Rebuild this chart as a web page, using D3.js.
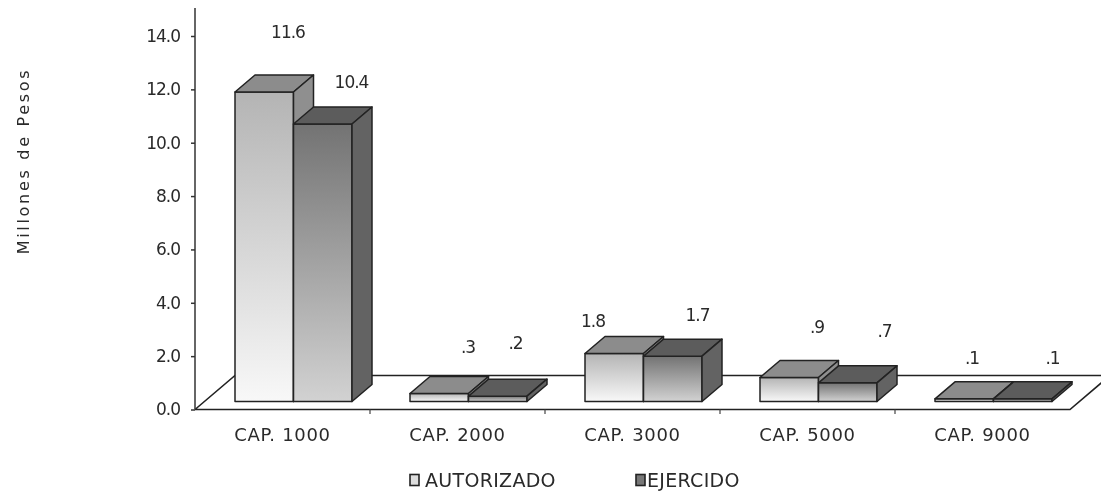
<!DOCTYPE html>
<html lang="es">
<head>
    <meta charset="UTF-8">
    <title>Millones de Pesos por capítulo</title>
    <script src="https://d3js.org/d3.v7.min.js"></script>
    <style>
        html, body { margin: 0; padding: 0; background: #fff; }
        svg { display: block; filter: blur(0.45px); }
        text { font-family: "DejaVu Sans", sans-serif; fill: #2a2a2a; }
        .domain, .tick line { stroke: #333; stroke-width: 1.5; }
    </style>
</head>
<body>
    <div id="chart"></div>
    <script>
        // values
        var categories = ["CAP. 1000", "CAP. 2000", "CAP. 3000", "CAP. 5000", "CAP. 9000"];
        var seriesNames = ["AUTORIZADO", "EJERCIDO"];
        var autorizado = [11.6, 0.3, 1.8, 0.9, 0.1];
        var ejercido = [10.4, 0.2, 1.7, 0.7, 0.1];
        var yTicks = [0, 2, 4, 6, 8, 10, 12, 14];

        // the value labels sit loosely above the bars, offsets from each bar's front top-left corner
        var labelOffsets = [
            [[53, -54], [58, -36]],
            [[58, -40], [47, -47]],
            [[8, -26], [54, -35]],
            [[57, -44], [66, -46]],
            [[37, -35], [59, -35]]
        ];

        var width = 1101, height = 491;
        var depthX = 20, depthY = 17;    // 3d offset of a bar
        var floorX = 40, floorY = 34;    // 3d offset of the floor
        var baseLift = 8;                // bars stand a bit behind the front edge

        var svg = d3.select("#chart").append("svg")
            .attr("width", width)
            .attr("height", height);

        var y = d3.scaleLinear().domain([0, 14]).range([409.5, 36]);
        var x = d3.scaleBand().domain(categories).range([195, 1070]);
        var xInner = d3.scaleBand().domain(seriesNames).range([40, 157]);

        var defs = svg.append("defs");
        function addGradient(id, c1, c2) {
            var g = defs.append("linearGradient").attr("id", id)
                .attr("x1", 0).attr("y1", 0).attr("x2", 0).attr("y2", 1);
            g.append("stop").attr("offset", "0%").attr("stop-color", c1);
            g.append("stop").attr("offset", "100%").attr("stop-color", c2);
        }
        addGradient("frontA", "#b4b4b4", "#f8f8f8");
        addGradient("frontE", "#737373", "#d2d2d2");

        var faces = {
            AUTORIZADO: { front: "url(#frontA)", top: "#8c8c8c", side: "#8f8f8f" },
            EJERCIDO: { front: "url(#frontE)", top: "#5c5c5c", side: "#636363" }
        };

        // floor
        var x0 = x.range()[0], x1 = x.range()[1], y0 = y(0);
        svg.append("path")
            .attr("d", d3.line()([[x0, y0], [x0 + floorX, y0 - floorY], [x1 + floorX, y0 - floorY], [x1, y0], [x0, y0]]))
            .attr("fill", "#fff")
            .attr("stroke", "#222")
            .attr("stroke-width", 1.6);

        // axes
        var yAxis = d3.axisLeft(y)
            .tickValues(yTicks)
            .tickFormat(d3.format(".1f"))
            .tickSize(4)
            .tickPadding(11);
        svg.append("g")
            .attr("transform", "translate(195,0)")
            .call(yAxis)
            .call(g => g.selectAll("text").attr("font-size", 17).attr("letter-spacing", "-1px"))
            .call(g => g.select(".domain").attr("d", "M0,8V409.5"));

        var xAxis = d3.axisBottom(x).tickSize(0).tickPadding(19);
        svg.append("g")
            .attr("transform", "translate(0,409.5)")
            .call(xAxis)
            .call(g => g.select(".domain").remove())
            .call(g => g.selectAll("text").attr("font-size", 18).attr("letter-spacing", "0.7px"));

        svg.selectAll(".cat-tick")
            .data(categories.slice(1))
            .enter().append("line")
            .attr("class", "cat-tick")
            .attr("x1", d => x(d))
            .attr("x2", d => x(d))
            .attr("y1", 409.5)
            .attr("y2", 414)
            .attr("stroke", "#444")
            .attr("stroke-width", 1.2);

        // bars
        var bars = [];
        categories.forEach(function(c, i) {
            bars.push({ cat: c, i: i, s: 0, name: seriesNames[0], value: autorizado[i] });
            bars.push({ cat: c, i: i, s: 1, name: seriesNames[1], value: ejercido[i] });
        });

        var bar = svg.selectAll(".bar")
            .data(bars)
            .enter().append("g")
            .attr("class", "bar")
            .attr("stroke", "#222")
            .attr("stroke-width", 1.5)
            .attr("stroke-linejoin", "round");

        var bw = xInner.bandwidth();
        function barLeft(d) { return x(d.cat) + xInner(d.name); }
        function barTop(d) { return y(d.value) - baseLift; }
        var barBottom = y(0) - baseLift;

        bar.append("rect")
            .attr("x", barLeft)
            .attr("y", barTop)
            .attr("width", bw)
            .attr("height", d => barBottom - barTop(d))
            .attr("fill", d => faces[d.name].front);

        bar.append("path")
            .attr("d", d => d3.line()([
                [barLeft(d), barTop(d)], [barLeft(d) + depthX, barTop(d) - depthY],
                [barLeft(d) + bw + depthX, barTop(d) - depthY], [barLeft(d) + bw, barTop(d)]
            ]) + "Z")
            .attr("fill", d => faces[d.name].top);

        bar.append("path")
            .attr("d", d => d3.line()([
                [barLeft(d) + bw, barTop(d)], [barLeft(d) + bw + depthX, barTop(d) - depthY],
                [barLeft(d) + bw + depthX, barBottom - depthY], [barLeft(d) + bw, barBottom]
            ]) + "Z")
            .attr("fill", d => faces[d.name].side);

        // value labels, written the way the chart prints them (".3" not "0.3")
        function valueLabel(v) {
            return d3.format(".1f")(v).replace(/^0/, "");
        }
        svg.selectAll(".value")
            .data(bars)
            .enter().append("text")
            .attr("class", "value")
            .attr("x", d => barLeft(d) + labelOffsets[d.i][d.s][0])
            .attr("y", d => barTop(d) + labelOffsets[d.i][d.s][1])
            .attr("text-anchor", "middle")
            .attr("font-size", 17)
            .attr("letter-spacing", "-1px")
            .text(d => valueLabel(d.value));

        // y title
        svg.append("text")
            .attr("transform", "translate(29,161) rotate(-90)")
            .attr("text-anchor", "middle")
            .attr("font-size", 16)
            .attr("letter-spacing", "2.7px")
            .text("Millones de Pesos");

        // legend
        var legendX = d3.scaleOrdinal().domain(seriesNames).range([410, 636]);
        var legend = svg.selectAll(".legend")
            .data(seriesNames)
            .enter().append("g")
            .attr("class", "legend")
            .attr("transform", d => "translate(" + legendX(d) + ",474.5)");
        legend.append("rect")
            .attr("width", 9)
            .attr("height", 11)
            .attr("fill", d => d === "AUTORIZADO" ? "#ddd" : "#777")
            .attr("stroke", "#222")
            .attr("stroke-width", 1.6);
        legend.append("text")
            .attr("x", d => d === "AUTORIZADO" ? 15 : 11)
            .attr("y", 12)
            .attr("font-size", 19)
            .attr("letter-spacing", "0.3px")
            .text(d => d);
    </script>
</body>
</html>
